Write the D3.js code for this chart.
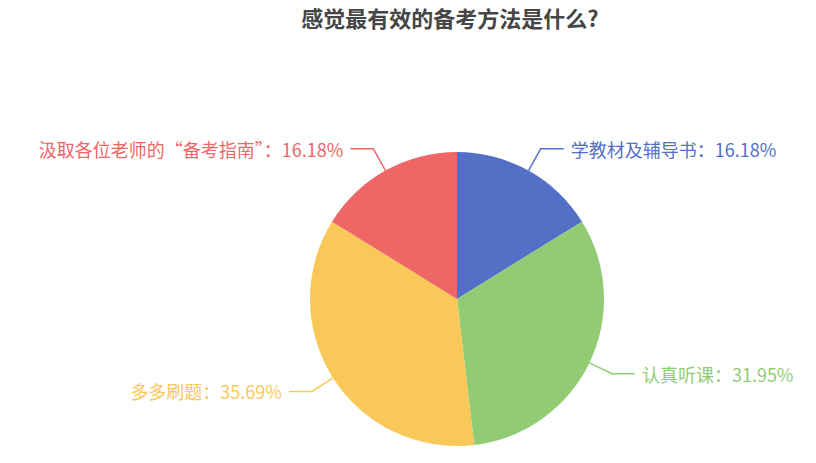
<!DOCTYPE html>
<html>
<head>
<meta charset="utf-8">
<script src="https://cdn.jsdelivr.net/npm/d3@7"></script>
<style>
  body { margin: 0; background: #fff; }
  text { font-family: "Noto Sans CJK SC", "Noto Sans", sans-serif; }
</style>
</head>
<body>
<div id="pieChart"></div>
<script>
// data
const categories = ["学教材及辅导书", "认真听课", "多多刷题", "汲取各位老师的“备考指南”"];
const values = [16.18, 31.95, 35.69, 16.18];
const colors = ["#5470c6", "#91cc75", "#fac858", "#ee6666"];
const chartTitle = "感觉最有效的备考方法是什么?";

const svgWidth = 816;
const svgHeight = 463;
const center = {x: 457, y: 299};
const radius = 147;
const lineLen1 = 25;
const lineLen2 = 23;

let svg = d3.select("#pieChart")
  .append("svg")
  .attr("width", svgWidth)
  .attr("height", svgHeight);

svg.append("text")
  .attr("x", 450)
  .attr("y", 17)
  .attr("text-anchor", "middle")
  .attr("dominant-baseline", "central")
  .attr("font-size", 22)
  .attr("font-weight", "bold")
  .attr("fill", "#464646")
  .text(chartTitle);

const dataArray = categories.map((c, i) => ({name: c, value: values[i], color: colors[i]}));

const pie = d3.pie()
  .sort(null)
  .value(d => d.value);

const arc = d3.arc()
  .innerRadius(0)
  .outerRadius(radius);

const arcs = pie(dataArray);

const g = svg.append("g")
  .attr("transform", `translate(${center.x}, ${center.y})`);

g.selectAll("path")
  .data(arcs)
  .enter()
  .append("path")
  .attr("d", arc)
  .attr("fill", d => d.data.color);

// label lines + labels
arcs.forEach(d => {
  const mid = (d.startAngle + d.endAngle) / 2;
  const dx = Math.sin(mid), dy = -Math.cos(mid);
  const side = dx >= 0 ? 1 : -1;
  const p0 = [dx * radius, dy * radius];
  const p1 = [dx * (radius + lineLen1), dy * (radius + lineLen1)];
  const p2 = [p1[0] + side * lineLen2, p1[1]];

  g.append("polyline")
    .attr("points", [p0, p1, p2].map(p => p.join(",")).join(" "))
    .attr("fill", "none")
    .attr("stroke", d.data.color)
    .attr("stroke-width", 1.5);

  g.append("text")
    .attr("x", p2[0] + side * 7)
    .attr("y", p2[1])
    .attr("text-anchor", side > 0 ? "start" : "end")
    .attr("dominant-baseline", "central")
    .attr("font-size", 18)
    .attr("fill", d.data.color)
    .text(d.data.name + "：" + d.data.value.toFixed(2) + "%");
});
</script>
</body>
</html>
